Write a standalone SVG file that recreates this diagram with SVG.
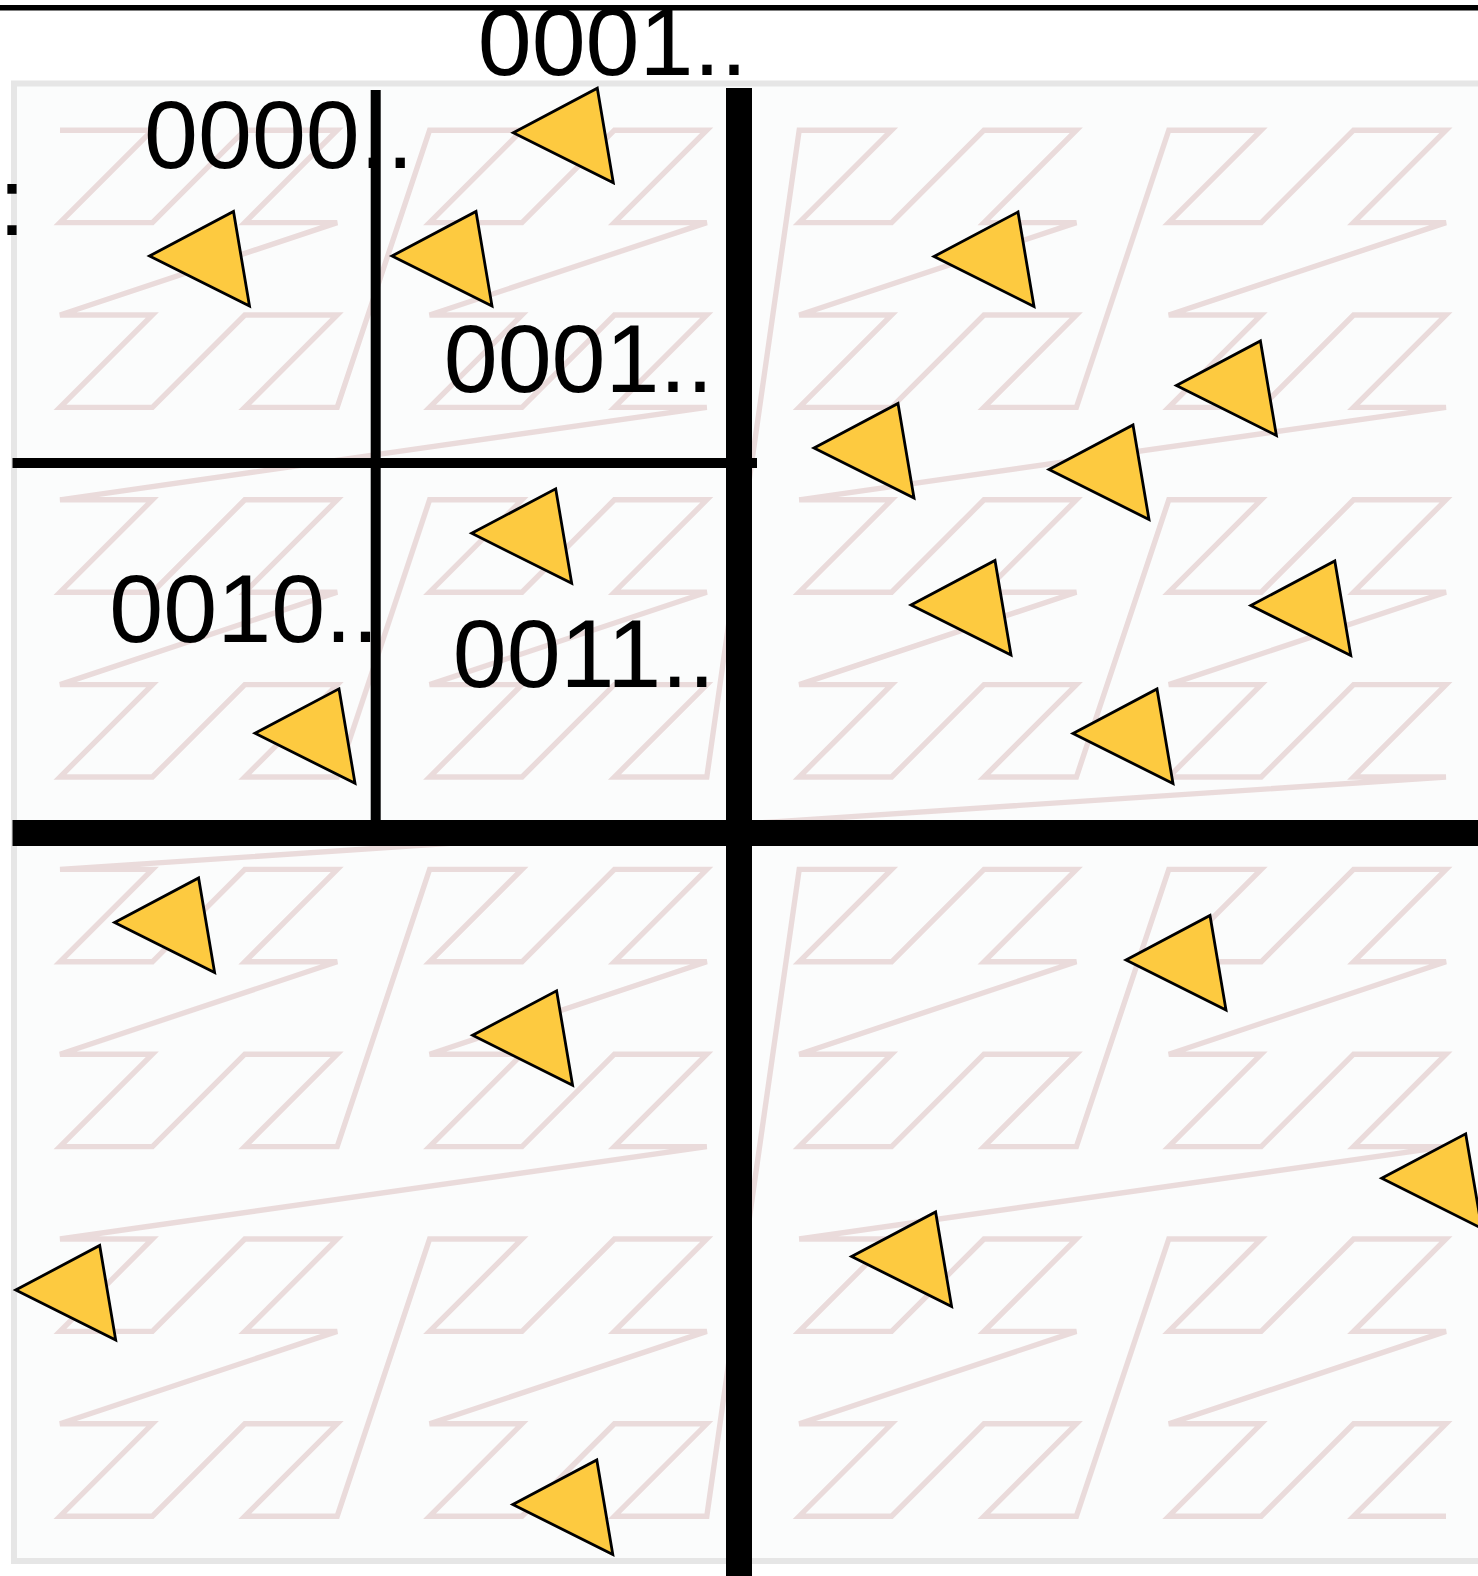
<svg xmlns="http://www.w3.org/2000/svg" xmlns:xlink="http://www.w3.org/1999/xlink" width="1478" height="1576" viewBox="0 0 1478 1576">
<style>
.bg{fill:#fbfcfc;stroke:#e6e6e6;stroke-width:6}
.curve{fill:none;stroke:#eadbdb;stroke-width:0.058}
.q{stroke:#000;fill:none}
.thick{stroke-width:26}
.thin{stroke-width:10}
.tri{fill:#fdca40;stroke:#000;stroke-width:2.8;stroke-linejoin:miter}
.lbl{font-family:"Liberation Sans",Arial,sans-serif;font-size:97px;fill:#000}
</style>
<defs>
<path id="tri" class="tri" d="M0 0L84 -44.5L100 50Z"/>
</defs>
<rect class="bg" x="14" y="83.5" width="1478" height="1477.5"/>
<g id="zcurve" transform="translate(60 130.2) scale(92.4)">
<path class="curve" d="M0 0
h1l-1 1h1l1-1h1l-1 1h1l-3 1h1l-1 1h1l1-1h1l-1 1h1 l1-3
h1l-1 1h1l1-1h1l-1 1h1l-3 1h1l-1 1h1l1-1h1l-1 1h1 l-7 1
h1l-1 1h1l1-1h1l-1 1h1l-3 1h1l-1 1h1l1-1h1l-1 1h1 l1-3
h1l-1 1h1l1-1h1l-1 1h1l-3 1h1l-1 1h1l1-1h1l-1 1h1
l1-7
h1l-1 1h1l1-1h1l-1 1h1l-3 1h1l-1 1h1l1-1h1l-1 1h1 l1-3
h1l-1 1h1l1-1h1l-1 1h1l-3 1h1l-1 1h1l1-1h1l-1 1h1 l-7 1
h1l-1 1h1l1-1h1l-1 1h1l-3 1h1l-1 1h1l1-1h1l-1 1h1 l1-3
h1l-1 1h1l1-1h1l-1 1h1l-3 1h1l-1 1h1l1-1h1l-1 1h1
l-15 1
h1l-1 1h1l1-1h1l-1 1h1l-3 1h1l-1 1h1l1-1h1l-1 1h1 l1-3
h1l-1 1h1l1-1h1l-1 1h1l-3 1h1l-1 1h1l1-1h1l-1 1h1 l-7 1
h1l-1 1h1l1-1h1l-1 1h1l-3 1h1l-1 1h1l1-1h1l-1 1h1 l1-3
h1l-1 1h1l1-1h1l-1 1h1l-3 1h1l-1 1h1l1-1h1l-1 1h1
l1-7
h1l-1 1h1l1-1h1l-1 1h1l-3 1h1l-1 1h1l1-1h1l-1 1h1 l1-3
h1l-1 1h1l1-1h1l-1 1h1l-3 1h1l-1 1h1l1-1h1l-1 1h1 l-7 1
h1l-1 1h1l1-1h1l-1 1h1l-3 1h1l-1 1h1l1-1h1l-1 1h1 l1-3
h1l-1 1h1l1-1h1l-1 1h1l-3 1h1l-1 1h1l1-1h1l-1 1h1"/>
</g>
<g id="connectors">
<line class="q thick" x1="739" y1="88" x2="739" y2="1576"/>
<line class="q thick" x1="12.5" y1="833" x2="1478" y2="833"/>
<line class="q thin" x1="375.7" y1="90" x2="375.7" y2="833"/>
<line class="q thin" x1="12.5" y1="463" x2="757" y2="463"/>
</g>
<g id="triangles">
<g id="t1"><use xlink:href="#tri" x="149.5" y="256"/></g>
<g id="t2"><use xlink:href="#tri" x="392" y="256"/></g>
<g id="t3"><use xlink:href="#tri" x="513.3" y="132.7"/></g>
<g id="t4"><use xlink:href="#tri" x="934" y="256.5"/></g>
<g id="t5"><use xlink:href="#tri" x="1176.4" y="385.5"/></g>
<g id="t6"><use xlink:href="#tri" x="814" y="448"/></g>
<g id="t7"><use xlink:href="#tri" x="1049" y="469.5"/></g>
<g id="t8"><use xlink:href="#tri" x="471.7" y="533.3"/></g>
<g id="t9"><use xlink:href="#tri" x="911" y="605"/></g>
<g id="t10"><use xlink:href="#tri" x="1250.8" y="605.5"/></g>
<g id="t11"><use xlink:href="#tri" x="255" y="733.3"/></g>
<g id="t12"><use xlink:href="#tri" x="1073" y="733.5"/></g>
<g id="t13"><use xlink:href="#tri" x="114.6" y="922.5"/></g>
<g id="t14"><use xlink:href="#tri" x="472.6" y="1035.3"/></g>
<g id="t15"><use xlink:href="#tri" x="1126" y="960"/></g>
<g id="t16"><use xlink:href="#tri" x="1381.7" y="1178.3"/></g>
<g id="t17"><use xlink:href="#tri" x="15.7" y="1290"/></g>
<g id="t18"><use xlink:href="#tri" x="851.6" y="1256.5"/></g>
<g id="t19"><use xlink:href="#tri" x="512.8" y="1504.5"/></g>
</g>
<g id="labels">
<g id="l0000"><text class="lbl" x="144" y="168.3">0000..</text></g>
<g id="l0001top"><text class="lbl" x="477.7" y="75">0001..</text></g>
<g id="l0001"><text class="lbl" x="443.7" y="391.7">0001..</text></g>
<g id="l0010"><text class="lbl" x="109.3" y="641.7">0010..</text></g>
<g id="l0011"><text class="lbl" x="452.7" y="686.7">0011..</text></g>
<g id="lcolon"><text class="lbl" x="-1.4" y="235">:</text></g>
</g>
<line id="topline" x1="0" y1="7.8" x2="1478" y2="7.8" stroke="#000" stroke-width="5.5"/>
</svg>
